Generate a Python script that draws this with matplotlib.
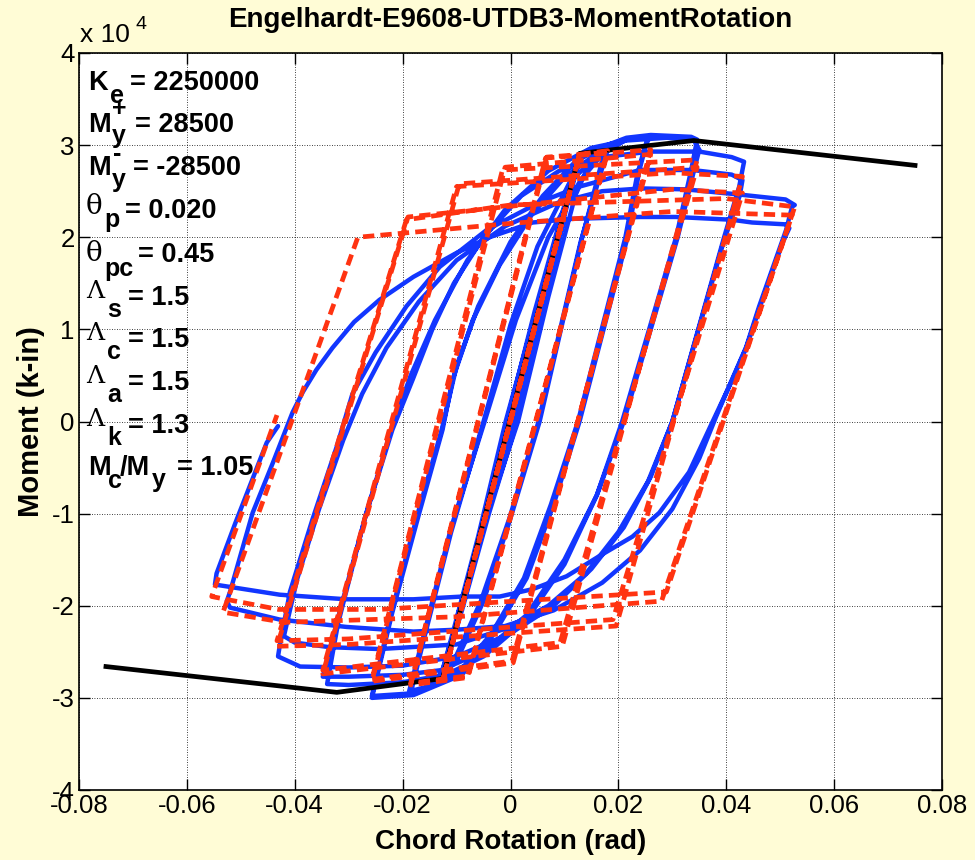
import matplotlib.pyplot as plt
import numpy as np

# rotation in rad, moment in 1e4 k-in (the chart labels its y axis "x 10^4")

# experiment, blue solid; one list per amplitude group, in loading order
exp_small = [(0, 0), (0.0075, 1.70), (0.0005, 0.0), (-0.0075, -1.65), (-0.0005, 0.0),
             (0.0100, 2.20), (0.0025, 0.60), (-0.0020, -0.50), (-0.0100, -2.15),
             (-0.0025, -0.60), (0.0020, 0.50), (0.0128, 2.88)]
exp_g1 = [(0.0095, 2.25), (0.0045, 1.20), (-0.0007, 0.0), (-0.0060, -1.30), (-0.0100, -2.20),
          (-0.0125, -2.75), (-0.0090, -2.05), (-0.0040, -1.00), (0.0012, 0.0), (0.0060, 1.25),
          (0.0105, 2.35), (0.0130, 2.88), (0.0095, 2.22), (0.0045, 1.15), (-0.0009, 0.0),
          (-0.0060, -1.25), (-0.0105, -2.25), (-0.0127, -2.72), (-0.0090, -2.00),
          (-0.0040, -0.95), (0.0014, 0.0), (0.0070, 1.35), (0.0120, 2.45), (0.0150, 2.85),
          (0.0175, 2.95)]
exp_g2 = [(0.0150, 2.38), (0.0133, 2.00), (0.0054, 0.0), (0.0000, -1.05), (-0.0050, -1.95),
          (-0.0100, -2.60), (-0.0150, -2.88), (-0.0185, -2.95), (-0.0160, -2.35),
          (-0.0110, -1.20), (-0.0050, 0.0), (0.0000, 1.05), (0.0050, 1.90), (0.0110, 2.60),
          (0.0160, 2.88), (0.0180, 2.95), (0.0150, 2.35), (0.0130, 1.95), (0.0052, 0.0),
          (-0.0002, -1.05), (-0.0055, -1.95), (-0.0105, -2.60), (-0.0155, -2.88),
          (-0.0188, -2.93), (-0.0160, -2.30), (-0.0110, -1.15), (-0.0048, 0.0), (0.0010, 1.10),
          (0.0070, 2.00), (0.0130, 2.62), (0.0170, 2.90), (0.0215, 3.06), (0.0260, 3.10)]
exp_g3 = [(0.0254, 3.06), (0.0239, 2.73), (0.0217, 2.00), (0.0128, 0.0), (0.0080, -0.90),
          (0.0030, -1.70), (-0.0030, -2.30), (-0.0090, -2.75), (-0.0180, -2.97),
          (-0.0257, -3.00), (-0.0219, -2.07), (-0.0169, -0.99), (-0.0126, -0.09),
          (-0.0107, 0.46), (-0.0070, 1.10), (-0.0020, 1.70), (0.0040, 2.25), (0.0100, 2.65),
          (0.0170, 2.95), (0.0215, 3.06), (0.0260, 3.10), (0.0250, 3.00), (0.0235, 2.68),
          (0.0213, 2.00), (0.0125, 0.0), (0.0075, -0.90), (0.0025, -1.70), (-0.0035, -2.30),
          (-0.0095, -2.72), (-0.0180, -2.95), (-0.0257, -2.98), (-0.0222, -2.10),
          (-0.0172, -1.00), (-0.0128, -0.10), (-0.0100, 0.60), (-0.0060, 1.25), (0.0000, 1.95),
          (0.0060, 2.45), (0.0120, 2.82), (0.0170, 2.98), (0.0215, 3.08), (0.0260, 3.11),
          (0.0335, 3.09), (0.0346, 3.06)]
exp_g4 = [(0.0335, 2.73), (0.0307, 2.00), (0.0207, 0.0), (0.0160, -0.80), (0.0100, -1.55),
          (0.0030, -2.15), (-0.0050, -2.55), (-0.0120, -2.75), (-0.0200, -2.83),
          (-0.0300, -2.86), (-0.0340, -2.85), (-0.0320, -2.20), (-0.0270, -1.05),
          (-0.0222, -0.10), (-0.0185, 0.50), (-0.0140, 1.10), (-0.0080, 1.75), (-0.0010, 2.30),
          (0.0070, 2.72), (0.0150, 2.97), (0.0215, 3.05), (0.0290, 3.08), (0.0340, 3.05),
          (0.0350, 2.95), (0.0340, 2.72), (0.0310, 2.00), (0.0210, 0.0), (0.0160, -0.80),
          (0.0100, -1.50), (0.0030, -2.10), (-0.0050, -2.50), (-0.0130, -2.70),
          (-0.0200, -2.75), (-0.0300, -2.77), (-0.0348, -2.77), (-0.0317, -2.07),
          (-0.0267, -0.99), (-0.0219, -0.09), (-0.0181, 0.46), (-0.0145, 1.00),
          (-0.0105, 1.50), (-0.0050, 2.00), (0.0020, 2.45), (0.0090, 2.72), (0.0170, 2.87),
          (0.0260, 2.93), (0.0350, 2.93), (0.0410, 2.87), (0.0433, 2.82)]
exp_g5 = [(0.0424, 2.55), (0.0396, 2.00), (0.0300, 0.0), (0.0260, -0.60), (0.0210, -1.15),
          (0.0150, -1.60), (0.0080, -2.00), (0.0000, -2.30), (-0.0100, -2.55),
          (-0.0200, -2.65), (-0.0300, -2.67), (-0.0390, -2.66), (-0.0431, -2.55),
          (-0.0428, -2.44), (-0.0409, -1.85), (-0.0367, -1.06), (-0.0322, -0.27),
          (-0.0293, 0.30), (-0.0250, 0.75), (-0.0193, 1.25), (-0.0131, 1.68), (-0.0044, 2.08),
          (0.0054, 2.38), (0.0128, 2.55), (0.0240, 2.73), (0.0337, 2.73), (0.0410, 2.68),
          (0.0430, 2.62), (0.0425, 2.45), (0.0395, 1.95), (0.0300, 0.0), (0.0255, -0.65),
          (0.0200, -1.20), (0.0140, -1.65), (0.0070, -2.00), (-0.0010, -2.25),
          (-0.0100, -2.42), (-0.0243, -2.47), (-0.0335, -2.45), (-0.0400, -2.40),
          (-0.0420, -2.33), (-0.0415, -2.20), (-0.0395, -1.70), (-0.0355, -0.95),
          (-0.0310, -0.20), (-0.0275, 0.30), (-0.0230, 0.80), (-0.0170, 1.30),
          (-0.0100, 1.75), (-0.0010, 2.12), (0.0090, 2.38), (0.0170, 2.50), (0.0243, 2.53),
          (0.0325, 2.52), (0.0430, 2.46), (0.0510, 2.41), (0.0527, 2.35)]
exp_g6 = [(0.0522, 2.33), (0.0511, 2.08), (0.0485, 1.65), (0.0461, 1.25), (0.0437, 0.81),
          (0.0411, 0.46), (0.0381, 0.05), (0.0350, -0.40), (0.0300, -0.95), (0.0240, -1.40),
          (0.0170, -1.75), (0.0080, -2.05), (-0.0010, -2.22), (-0.0100, -2.26),
          (-0.0180, -2.28), (-0.0304, -2.23), (-0.0428, -2.15), (-0.0520, -2.02),
          (-0.0526, -1.95), (-0.0520, -1.85), (-0.0478, -0.99), (-0.0440, -0.44),
          (-0.0404, 0.10), (-0.0385, 0.32), (-0.0360, 0.56), (-0.0330, 0.80), (-0.0290, 1.08),
          (-0.0243, 1.32), (-0.0180, 1.57), (-0.0100, 1.83), (-0.0039, 2.00), (0.0041, 2.16),
          (0.0115, 2.20), (0.0240, 2.22), (0.0307, 2.22), (0.0410, 2.19), (0.0448, 2.16),
          (0.0510, 2.14), (0.0517, 2.10), (0.0505, 1.95), (0.0485, 1.62), (0.0461, 1.22),
          (0.0437, 0.80), (0.0411, 0.45), (0.0374, -0.01), (0.0331, -0.55), (0.0276, -0.99),
          (0.0226, -1.25), (0.0165, -1.46), (0.0104, -1.68), (0.0041, -1.82),
          (-0.0020, -1.90), (-0.0089, -1.90), (-0.0180, -1.93), (-0.0304, -1.93),
          (-0.0428, -1.88), (-0.0548, -1.77), (-0.0545, -1.65), (-0.0510, -1.10),
          (-0.0486, -0.74), (-0.0452, -0.23), (-0.0431, -0.05)]

# model, red dashed (corners of the loops)
mod_small = [(0, 0), (0.0128, 2.90), (-0.0125, -2.80), (0.0128, 2.90), (-0.0125, -2.80),
             (0.0128, 2.90)]
mod_r2 = [(0.0180, 2.94), (-0.0080, -2.78), (-0.0185, -2.86), (0.0067, 2.87),
          (0.0180, 2.92), (-0.0078, -2.76), (-0.0185, -2.84), (0.0065, 2.86)]
mod_r3 = [(0.0260, 2.95), (0.0005, -2.62), (-0.0257, -2.82), (-0.0010, 2.76),
          (0.0260, 2.90), (0.0003, -2.60), (-0.0257, -2.80), (-0.0015, 2.73)]
mod_r4 = [(0.0346, 2.84), (0.0096, -2.44), (-0.0348, -2.74), (-0.0095, 2.58),
          (0.0346, 2.76), (0.0092, -2.40), (-0.0348, -2.70), (-0.0100, 2.55)]
mod_r5 = [(0.0300, 2.70), (0.0430, 2.66), (0.0196, -2.22), (-0.0300, -2.42), (-0.0433, -2.44),
          (-0.0190, 2.22), (0.0300, 2.52), (0.0430, 2.48), (0.0190, -2.15), (-0.0300, -2.36),
          (-0.0433, -2.38), (-0.0193, 2.19)]
mod_r6 = [(0.0000, 2.35), (0.0400, 2.42), (0.0527, 2.33), (0.0280, -1.95), (-0.0100, -2.12),
          (-0.0420, -2.18), (-0.0533, -2.07), (-0.0283, 2.00), (0.0000, 2.15), (0.0300, 2.28),
          (0.0522, 2.24), (0.0289, -1.85), (-0.0020, -1.96), (-0.0243, -2.04),
          (-0.0430, -2.04), (-0.0554, -1.90), (-0.0433, 0.07)]

# backbone, black
backbone = [(-0.075, -2.66), (-0.0322, -2.94), (-0.0126, -2.79), (0.0128, 2.91),
            (0.0340, 3.05), (0.075, 2.78)]

xticks = [-0.08, -0.06, -0.04, -0.02, 0, 0.02, 0.04, 0.06, 0.08]
xtick_labels = ['-0.08', '-0.06', '-0.04', '-0.02', '0', '0.02', '0.04', '0.06', '0.08']
yticks = [-4, -3, -2, -1, 0, 1, 2, 3, 4]

BG = '#FFFCD6'
BLUE = '#1236FF'
RED = '#FF3311'
SANS = 'Liberation Sans'
GREEK = 'DejaVu Serif'


def path(*segs):
    pts = np.array([p for s in segs for p in s], dtype=float)
    return pts[:, 0], pts[:, 1] * 1e4


W, H = 975, 860
fig = plt.figure(figsize=(W / 100, H / 100), dpi=100, facecolor=BG)
ax = fig.add_axes([79 / W, 1 - 790 / H, 863 / W, 737 / H])
ax.set_facecolor('white')

bx, by = path(exp_small, exp_g1, exp_g2, exp_g3, exp_g4, exp_g5, exp_g6)
rx, ry = path(mod_small, mod_r2, mod_r3, mod_r4, mod_r5, mod_r6)
kx, ky = path(backbone)

ax.plot(bx, by, color=BLUE, lw=3.2, solid_joinstyle='round', solid_capstyle='round', zorder=3)
ax.plot(kx, ky, color='black', lw=3.4, zorder=4)
ax.plot(rx, ry, color=RED, lw=3.4, dashes=(2.4, 1.3), zorder=5)

ax.set_xlim(-0.08, 0.08)
ax.set_ylim(-4e4, 4e4)
ax.set_xticks(xticks)
ax.set_xticklabels(xtick_labels)
ax.set_yticks([v * 1e4 for v in yticks])
ax.set_yticklabels([str(v) for v in yticks])
ax.grid(True, color='black', ls=(0, (1, 2)), lw=0.6)
ax.tick_params(direction='in', length=8, width=1, top=True, right=True,
               labelsize=18.5, pad=3)
for lab in ax.get_xticklabels() + ax.get_yticklabels():
    lab.set_family(SANS)
for s in ax.spines.values():
    s.set_linewidth(1.2)

ax.set_title('Engelhardt-E9608-UTDB3-MomentRotation', fontsize=20, fontweight='bold',
             family=SANS, pad=19)
ax.set_xlabel('Chord Rotation (rad)', fontsize=20, fontweight='bold', family=SANS, labelpad=8)
ax.set_ylabel('Moment (k-in)', fontsize=21, fontweight='bold', family=SANS, labelpad=5)


def put(s, px, py, size=19.5, weight='bold', family=SANS):
    fig.text(px / W, 1 - py / H, s, fontsize=size, fontweight=weight, family=family,
             va='baseline', ha='left', zorder=10)


# exponent label
put('x 10', 80, 42, size=19, weight='normal')
put('4', 136, 29, size=14, weight='normal')

# parameter block
put('K', 88, 90)
put('e', 110, 103, size=18)
put('= 2250000', 130, 90)
put('M', 88, 132)
put('+', 112, 116, size=18)
put('y', 112, 143, size=18)
put('= 28500', 135, 132)
put('M', 88, 175)
put('-', 113, 161, size=18)
put('y', 112, 187, size=18)
put('= -28500', 133, 175)
put('\u03b8', 86, 214, size=20, weight='normal', family=GREEK)
put('p', 104, 227, size=18)
put('= 0.020', 125, 218)
put('\u03b8', 86, 261, size=20, weight='normal', family=GREEK)
put('pc', 104, 276, size=18)
put('= 0.45', 138, 262)
for sub, val, base in [('s', '1.5', 305), ('c', '1.5', 347), ('a', '1.5', 390), ('k', '1.3', 433)]:
    put('\u039b', 86, base - 7, size=18, weight='normal', family=GREEK)
    put(sub, 107, base + 12, size=18)
    put('= ' + val, 128, base)
put('M', 88, 475)
put('c', 108, 488, size=18)
put('/M', 120, 475)
put('y', 152, 487, size=18)
put('= 1.05', 177, 475)

fig.savefig('out.png', dpi=100, facecolor=BG)
